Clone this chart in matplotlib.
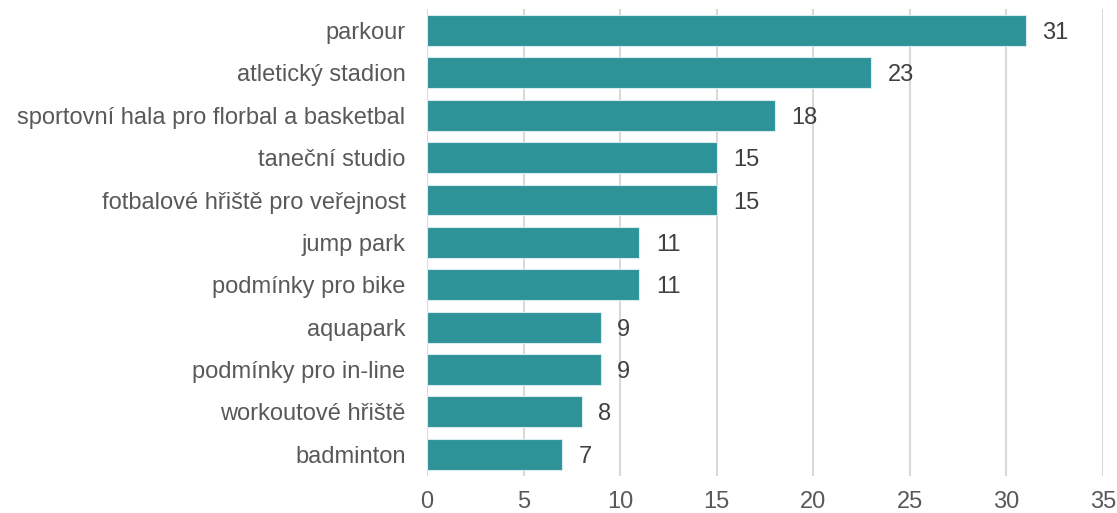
import matplotlib.pyplot as plt

plt.rcParams['font.family'] = ['Liberation Sans', 'DejaVu Sans']

categories = ["parkour", "atletický stadion", "sportovní hala pro florbal a basketbal",
              "taneční studio", "fotbalové hřiště pro veřejnost", "jump park",
              "podmínky pro bike", "aquapark", "podmínky pro in-line",
              "workoutové hřiště", "badminton"]
values = [31, 23, 18, 15, 15, 11, 11, 9, 9, 8, 7]
xticks = [0, 5, 10, 15, 20, 25, 30, 35]

fig = plt.figure(figsize=(11.17, 5.13), dpi=100)
ax = fig.add_axes([0.3823, 0.073, 0.6052, 0.909])

bars = ax.barh(categories, values, height=0.73, color='#2E9399',
               edgecolor='#D6ECEE', linewidth=0.8, zorder=3)
ax.set_ylim(10.5, -0.5)
ax.set_xlim(0, 35)
ax.set_xticks(xticks)
ax.grid(axis='x', color='#D9D9D9', linewidth=1.5, zorder=0)
for s in ax.spines.values():
    s.set_visible(False)
ax.tick_params(length=0, labelsize=17, labelcolor='#595959')
ax.tick_params(axis='x', pad=11)
ax.tick_params(axis='y', pad=15.5)

for b, v in zip(bars, values):
    ax.text(b.get_width() + 0.85, b.get_y() + b.get_height() / 2, str(v),
            va='center_baseline', ha='left', fontsize=17, color='#404040')

fig.savefig("out.png", dpi=100)
